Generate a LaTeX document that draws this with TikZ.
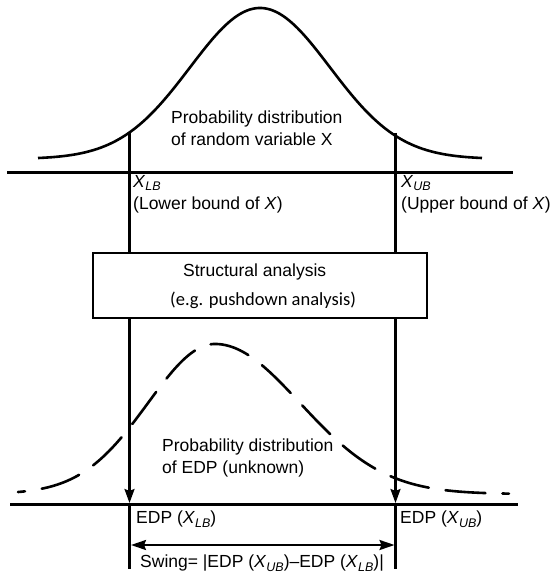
\documentclass[tikz,border=0pt]{standalone}
\usepackage{fontspec}
\setmainfont{Liberation Sans}
\newfontfamily\calibfont{Carlito}
\usetikzlibrary{arrows.meta}
\newcommand{\mysubsc}[1]{\raisebox{-0.4ex}{\fontsize{12.5}{12.5}\selectfont\itshape #1}}
\newcommand{\myXX}[1]{\textit{X}\mysubsc{#1}}
\tikzset{
  axisline/.style={line width=3pt},
  vline/.style={line width=2.2pt},
  curveline/.style={line width=2.6pt, line join=round},
  dashcurve/.style={line width=2.6pt, dash pattern=on 40pt off 17pt, dash phase=33pt, line cap=round},
  lbl/.style={inner sep=0pt, anchor=west, font=\fontsize{17.5}{22}\selectfont, align=left},
  boxstyle/.style={draw, line width=2.2pt, minimum width=334pt, minimum height=65pt, inner sep=0pt},
  downarrow/.style={vline, -{Stealth[length=14pt,width=10pt,inset=2pt]}},
  dblarrow/.style={line width=2.2pt, {Stealth[length=15pt,width=10pt,inset=2pt]}-{Stealth[length=15pt,width=10pt,inset=2pt]}}
}
\begin{document}
\begin{tikzpicture}[x=1pt,y=-1pt]
\useasboundingbox (0,0) rectangle (553,577);
% top distribution
\draw[curveline] plot[domain=38:482, samples=150] (\x, {159-151*exp(-0.5*((\x-260)/70)^2)});
\coordinate (tl) at (7,173);
\coordinate (tr) at (513,173);
\draw[axisline] (tl) -- (tr);
\node[lbl] (ptext) at (171,128.5) {Probability distribution\\of random variable X};
% coordinates of bounds
\coordinate (lbtop) at (129.5,133);
\coordinate (ubtop) at (395.5,133);
\coordinate (lbaxis) at (129.5,503);
\coordinate (ubaxis) at (395.5,503);
\coordinate (lbend) at (129.5,569);
\coordinate (ubend) at (395.5,569);
\node[lbl] (xlb) at (133,183) {\myXX{LB}};
\node[lbl] (lowlab) at (133,205) {(Lower bound of \textit{X})};
\node[lbl] (xub) at (401,183) {\myXX{UB}};
\node[lbl] (uplab) at (401,205) {(Upper bound of \textit{X})};
% box
\node[boxstyle] (box) at (260,285.5) {};
\node[lbl] (sa) at (183,272) {Structural analysis};
\node[lbl, font=\calibfont\fontsize{18.5}{22}\selectfont] (eg) at (170,300) {(e.g. pushdown analysis)};
% vertical lines
\draw[vline] (lbtop) -- (lbtop |- box.north);
\draw[vline] (ubtop) -- (ubtop |- box.north);
\draw[downarrow] (lbtop |- box.south) -- (lbaxis);
\draw[downarrow] (ubtop |- box.south) -- (ubaxis);
\draw[vline] (lbaxis) -- (lbend);
\draw[vline] (ubaxis) -- (ubend);
% bottom distribution (dashed)
\draw[dashcurve] plot[domain=18:509, samples=200] (\x, {494-150*exp(-0.5*((\x-215)/ifthenelse(\x<215,67,85))^2)});
\coordinate (bl) at (10,504);
\coordinate (br) at (518,504);
\draw[axisline] (bl) -- (br);
\node[lbl] (edptext) at (162,457.5) {Probability distribution\\of EDP (unknown)};
\node[lbl] (edplb) at (136,519) {EDP (\myXX{LB})};
\node[lbl] (edpub) at (400,519) {EDP (\myXX{UB})};
% swing
\coordinate (sl) at (131,545);
\coordinate (sr) at (394.5,545);
\draw[dblarrow] (sl) -- (sr);
\node[lbl] (swing) at (140,563) {Swing= |EDP (\myXX{UB})--EDP (\myXX{LB})|};
\end{tikzpicture}
\end{document}
